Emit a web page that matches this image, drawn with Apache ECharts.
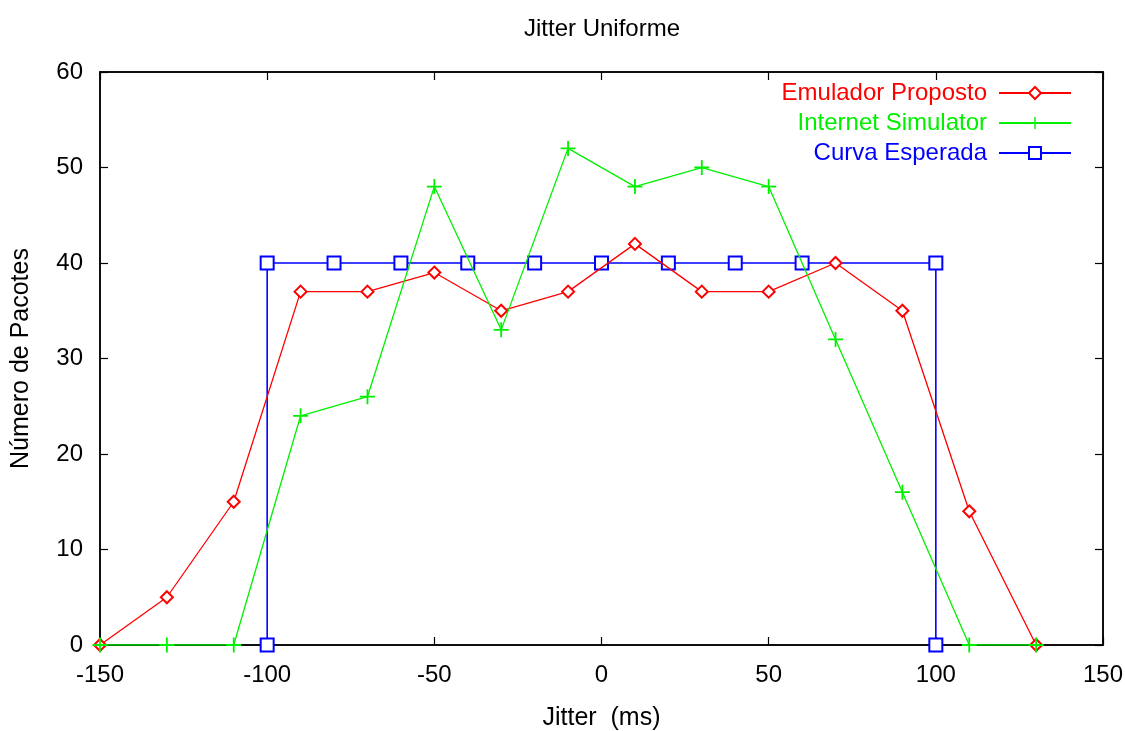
<!DOCTYPE html>
<html>
<head>
<meta charset="utf-8">
<script src="https://cdn.jsdelivr.net/npm/echarts@6/dist/echarts.min.js"></script>
<style>
  html, body { margin: 0; padding: 0; background: #fff; }
  #chart { width: 1125px; height: 731px; }
</style>
</head>
<body>
<div id="chart"></div>
<script>
// jitter (ms) of each measured point
let jitterX = [-150, -130, -110, -90, -70, -50, -30, -10, 10, 30, 50, 70, 90, 110, 130];
let emulador = [0, 5, 15, 37, 37, 39, 35, 37, 42, 37, 37, 40, 35, 14, 0];
let simulator = [0, 0, 0, 24, 26, 48, 33, 52, 48, 50, 48, 32, 16, 0, 0];
// expected curve
let esperadaX = [-100, -100, -80, -60, -40, -20, 0, 20, 40, 60, 100, 100];
let esperadaY = [0, 40, 40, 40, 40, 40, 40, 40, 40, 40, 40, 0];

let names = ['Emulador Proposto', 'Internet Simulator', 'Curva Esperada'];
let colors = ['#ff0000', '#00f000', '#0000ff'];

function pairs(xs, ys) {
  return xs.map((x, i) => [x, ys[i]]);
}

let plusPath = 'path://M4.4,0h1.2v4.4h4.4v1.2h-4.4v4.4h-1.2v-4.4h-4.4v-1.2h4.4z';
let font = 'Liberation Sans';

let chart = echarts.init(document.getElementById('chart'));

let tickIn = { show: true, inside: true, length: 8, lineStyle: { color: '#000', width: 1.2 } };

chart.setOption({
  animation: false,
  textStyle: { fontFamily: font },
  title: {
    text: 'Jitter Uniforme',
    left: 597,
    top: 12,
    textAlign: 'center',
    textStyle: { fontSize: 24, fontWeight: 'normal', color: '#000', fontFamily: font }
  },
  legend: {
    orient: 'vertical',
    right: 48,
    top: 76,
    align: 'right',
    itemWidth: 72,
    itemHeight: 15,
    itemGap: 6,
    textStyle: { fontSize: 24, fontFamily: font, padding: [0, 7, 0, 0] },
    data: names.map((n, i) => ({ name: n, textStyle: { color: colors[i] } }))
  },
  grid: {
    left: 100,
    right: 22,
    top: 72,
    bottom: 86,
    outerBoundsMode: 'none',
    show: true,
    borderColor: '#000',
    borderWidth: 1.5
  },
  xAxis: [{
    type: 'value',
    min: -150,
    max: 150,
    interval: 50,
    name: 'Jitter  (ms)',
    nameLocation: 'middle',
    nameGap: 61,
    nameTextStyle: { fontSize: 25, color: '#000', fontFamily: font },
    axisLine: { show: true, onZero: false, lineStyle: { color: '#000', width: 1.5 } },
    axisTick: tickIn,
    axisLabel: { fontSize: 24, color: '#000', margin: 18 },
    splitLine: { show: false }
  }, {
    type: 'value',
    position: 'top',
    min: -150,
    max: 150,
    interval: 50,
    axisLine: { show: true, onZero: false, lineStyle: { color: '#000', width: 1.5 } },
    axisTick: tickIn,
    axisLabel: { show: false },
    splitLine: { show: false }
  }],
  yAxis: [{
    type: 'value',
    min: 0,
    max: 60,
    interval: 10,
    name: 'Número de Pacotes',
    nameLocation: 'middle',
    nameGap: 66,
    nameTextStyle: { fontSize: 25, color: '#000', fontFamily: font },
    axisLine: { show: true, onZero: false, lineStyle: { color: '#000', width: 1.5 } },
    axisTick: tickIn,
    axisLabel: { fontSize: 24, color: '#000', margin: 17 },
    splitLine: { show: false }
  }, {
    type: 'value',
    position: 'right',
    min: 0,
    max: 60,
    interval: 10,
    axisLine: { show: true, onZero: false, lineStyle: { color: '#000', width: 1.5 } },
    axisTick: tickIn,
    axisLabel: { show: false },
    splitLine: { show: false }
  }],
  series: [{
    name: names[0],
    type: 'line',
    data: pairs(jitterX, emulador),
    symbol: 'emptyDiamond',
    symbolSize: 12,
    lineStyle: { color: colors[0], width: 1.3 },
    itemStyle: { color: colors[0], borderWidth: 1.2 },
    z: 3
  }, {
    name: names[1],
    type: 'line',
    data: pairs(jitterX, simulator),
    symbol: plusPath,
    symbolSize: 15,
    lineStyle: { color: colors[1], width: 1.3 },
    itemStyle: { color: colors[1] },
    z: 4
  }, {
    name: names[2],
    type: 'line',
    data: pairs(esperadaX, esperadaY),
    symbol: 'emptyRect',
    symbolSize: 13,
    lineStyle: { color: colors[2], width: 1.6 },
    itemStyle: { color: colors[2], borderWidth: 1.6 },
    z: 2
  }]
});
</script>
</body>
</html>
